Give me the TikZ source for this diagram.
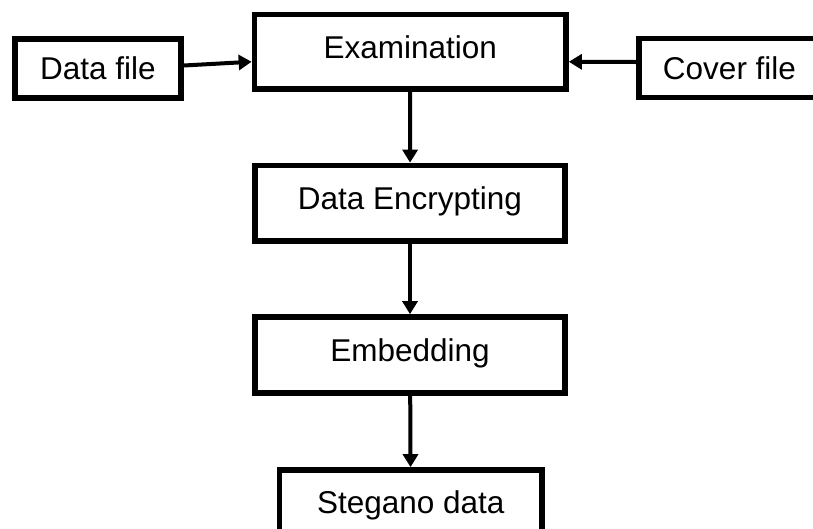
\documentclass[tikz,border=0pt]{standalone}
\usepackage{fontspec}
\setmainfont{Liberation Sans}
\usetikzlibrary{arrows.meta}

\begin{document}
\begin{tikzpicture}[x=1pt,y=-1pt,
    block/.style={rectangle,draw,line width=5.7pt,inner sep=0pt,
      font=\fontsize{31.5}{36}\selectfont,text height=22.5pt,text depth=10pt},
    sidebox/.style={block,text depth=0pt},
    flow/.style={-{Triangle[length=13pt,width=15pt]},line width=4pt}]
    \useasboundingbox (0,0) rectangle (813,528);
    \clip (0,0) rectangle (813,528);

    \node[sidebox,minimum width=166pt,minimum height=59pt] (data) at (98,68.5) {Data file};
    \node[block,minimum width=311.5pt,minimum height=74.5pt] (exam) at (410.25,51.75) {Examination};
    \node[sidebox,minimum width=181pt,minimum height=59pt] (cover) at (729.5,68) {Cover file};
    \node[block,minimum width=310pt,minimum height=75.5pt] (encr) at (410,203.25) {Data Encrypting};
    \node[block,minimum width=310pt,minimum height=76pt] (embed) at (410,355) {Embedding};
    \node[block,minimum width=262.5pt,minimum height=74pt] (stego) at (410.75,507) {Stegano data};

    % inputs
    \draw[flow] ([yshift=3pt]data.east) -- ([yshift=-10pt]exam.west);
    \draw[flow] ([yshift=6pt]cover.west) -- ([yshift=-10pt]exam.east);

    % main chain
    \draw[flow] (exam) -- (encr);
    \draw[flow] (encr) -- (embed);
    \draw[flow] (embed) -- (stego);
\end{tikzpicture}
\end{document}
